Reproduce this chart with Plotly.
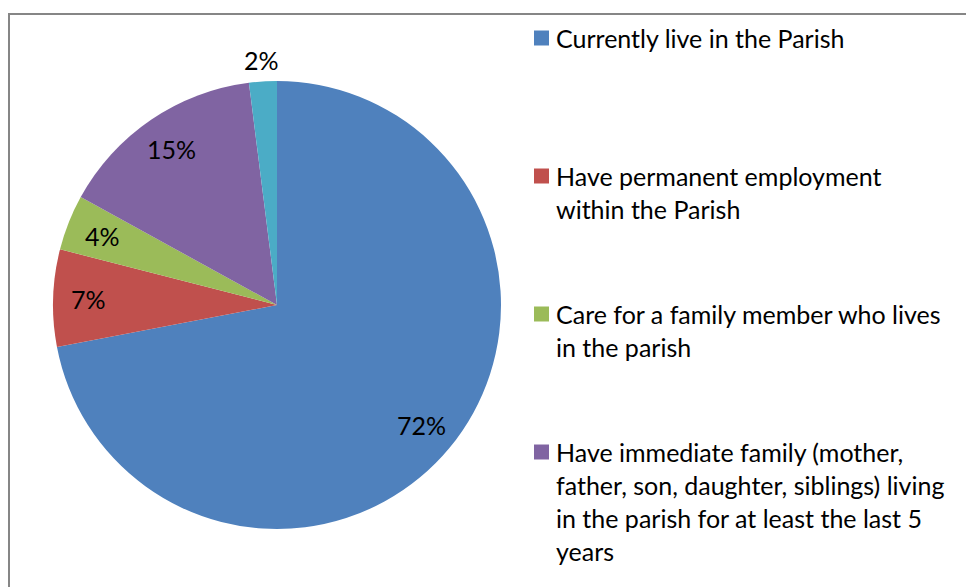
import math
import plotly.graph_objects as go

# Survey categories and their share of respondents (%)
labels = [
    "Currently live in the Parish",
    "Have permanent employment<br>within the Parish",
    "Care for a family member who lives<br>in the parish",
    "Have immediate family (mother,<br>father, son, daughter, siblings) living<br>in the parish for at least the last 5<br>years",
    "Other",
]
values = [72, 7, 4, 15, 2]
colors = ["#4F81BD", "#C0504D", "#9BBB59", "#8064A2", "#4BACC6"]

W, H = 966, 587
FONT = "Lato"
FS = 25


def px(x):
    return x / W


def py(y):
    return 1 - y / H


# pie geometry (pixels)
cx, cy, R = 277, 305, 224

fig = go.Figure(
    go.Pie(
        labels=[l.replace("<br>", " ") for l in labels],
        values=values,
        marker=dict(colors=colors, line=dict(width=0)),
        sort=False,
        direction="clockwise",
        rotation=0,
        textinfo="none",
        hoverinfo="label+percent",
        showlegend=False,
        domain=dict(x=[px(cx - R), px(cx + R)], y=[py(cy + R), py(cy - R)]),
    )
)

annotations = []
shapes = []

# percentage labels placed along each slice's bisector
total = sum(values)
cum = 0.0
for v in values:
    share = v / total
    mid = (cum + share / 2) * 2 * math.pi
    cum += share
    r = R * 0.84 if share > 0.03 else R + 21
    lx = cx + r * math.sin(mid)
    ly = cy - r * math.cos(mid)
    annotations.append(
        dict(
            x=px(lx), y=py(ly), xref="paper", yref="paper",
            text=f"{round(share * 100)}%", showarrow=False,
            xanchor="center", yanchor="middle",
            font=dict(family=FONT, size=FS, color="#000000"),
        )
    )

# legend column on the right; entries that would start below the
# bottom edge of the chart area are left out
leg_x, leg_y0, item_step, line_step = 534, 38, 138, 33
for i, (lab, col) in enumerate(zip(labels, colors)):
    y0 = leg_y0 + i * item_step
    if y0 + 10 > H:
        break
    shapes.append(
        dict(
            type="rect", xref="paper", yref="paper",
            x0=px(leg_x), x1=px(leg_x + 15), y0=py(y0 - 7.5), y1=py(y0 + 7.5),
            fillcolor=col, line=dict(width=0),
        )
    )
    for j, line in enumerate(lab.split("<br>")):
        annotations.append(
            dict(
                x=px(leg_x + 20), y=py(y0 + j * line_step), xref="paper", yref="paper",
                text=line, showarrow=False, xanchor="left", yanchor="middle",
                font=dict(family=FONT, size=FS, color="#000000"),
            )
        )

# chart area border
shapes.append(
    dict(
        type="rect", xref="paper", yref="paper",
        x0=px(9), x1=px(W + 20), y0=py(H + 20), y1=py(14),
        line=dict(color="#868686", width=2), fillcolor="rgba(0,0,0,0)",
    )
)

fig.update_layout(
    width=W, height=H,
    margin=dict(l=0, r=0, t=0, b=0),
    paper_bgcolor="white", plot_bgcolor="white",
    annotations=annotations, shapes=shapes,
)

fig.write_html("out.html")
